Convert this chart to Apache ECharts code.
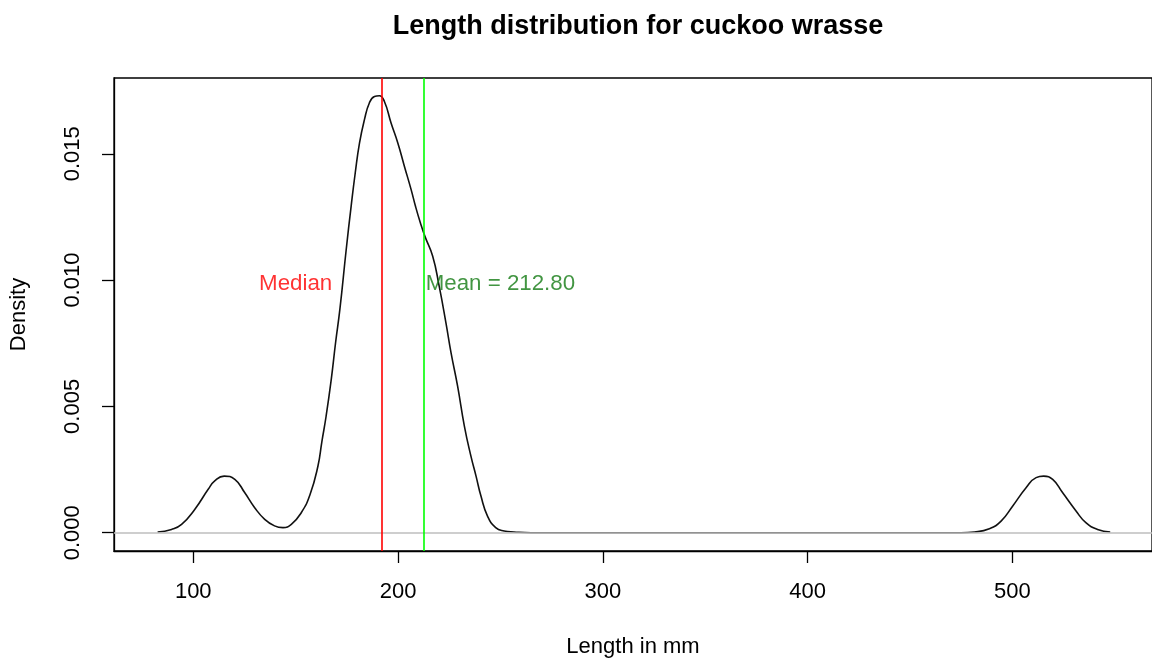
<!DOCTYPE html>
<html>
<head>
<meta charset="utf-8">
<script src="https://cdn.jsdelivr.net/npm/echarts@6/dist/echarts.min.js"></script>
<style>
html,body{margin:0;padding:0;background:#fff;}
#chart{width:1152px;height:663px;}
</style>
</head>
<body>
<div id="chart"></div>
<script>
// Kernel density estimate of length (mm)
var lengthMm = [82.6, 89.4, 94.3, 100.8, 107.3, 110.5, 115.1, 120.3, 125.1, 130.0, 134.9, 139.7, 143.8, 147.9, 152.8, 157.0, 160.9, 162.8, 164.9, 167.4, 169.5, 171.6, 174.7, 177.1, 179.1, 181.2, 183.6, 186.0, 188.5, 190.9, 193.3, 196.6, 199.9, 203.1, 206.4, 208.6, 210.9, 213.1, 216.9, 220.1, 223.4, 225.9, 229.1, 232.4, 235.6, 238.1, 240.5, 243.7, 247.7, 251.8, 256.6, 265, 300, 400, 475, 481.5, 488.8, 494.5, 500.2, 506.7, 511.6, 515.3, 519.7, 524.5, 531.1, 535.9, 541.6, 547.8];
var density = [0.00003, 0.00013, 0.00033, 0.00093, 0.00172, 0.00205, 0.00224, 0.00211, 0.00159, 0.00099, 0.00053, 0.00027, 0.00020, 0.00033, 0.00080, 0.00150, 0.00264, 0.00360, 0.00462, 0.00607, 0.00752, 0.00884, 0.01121, 0.01292, 0.01424, 0.01543, 0.01635, 0.01701, 0.01727, 0.01730, 0.01708, 0.01622, 0.01543, 0.01451, 0.01358, 0.01290, 0.01227, 0.01174, 0.01095, 0.00976, 0.00831, 0.00712, 0.00580, 0.00422, 0.00303, 0.00224, 0.00145, 0.00066, 0.00020, 0.00007, 0.00003, 0, 0, 0, 0, 0.00003, 0.00016, 0.00046, 0.00106, 0.00178, 0.00218, 0.00224, 0.00211, 0.00159, 0.00086, 0.00040, 0.00013, 0.00003];
var medianValue = 192;
var meanValue = 212.80;
var xTicks = [100, 200, 300, 400, 500];
var yTicks = [0, 0.005, 0.010, 0.015];
var medianLabelPos = [150, 0.01];
var meanLabelPos = [250, 0.01];

var FONT = '"Liberation Sans", Arial, Helvetica, sans-serif';
var curve = lengthMm.map(function (x, i) { return [x, density[i]]; });

var chart = echarts.init(document.getElementById('chart'), null, { renderer: 'canvas' });
chart.setOption({
  animation: false,
  backgroundColor: '#ffffff',
  title: {
    text: 'Length distribution for cuckoo wrasse',
    left: 633, top: 8, textAlign: 'center',
    textStyle: { fontFamily: FONT, fontSize: 27, fontWeight: 'bold', color: '#000' }
  },
  grid: {
    left: 112, top: 78, bottom: 111, right: -1,
    show: true, borderColor: '#000', borderWidth: 1.3, backgroundColor: 'transparent'
  },
  xAxis: {
    type: 'value', min: 61.3, max: 568.2,
    name: 'Length in mm', nameLocation: 'middle', nameGap: 85,
    nameTextStyle: { fontFamily: FONT, fontSize: 22, color: '#000' },
    axisLine: { show: true, onZero: false, lineStyle: { color: '#000', width: 1.3 } },
    axisTick: { show: true, length: 12, customValues: xTicks, lineStyle: { color: '#000', width: 1.3 } },
    axisLabel: { show: true, margin: 30, customValues: xTicks, fontFamily: FONT, fontSize: 22, color: '#000' },
    splitLine: { show: false }
  },
  yAxis: {
    type: 'value', min: -0.000724, max: 0.0180,
    name: 'Density', nameLocation: 'middle', nameGap: 84, nameRotate: 90,
    nameTextStyle: { fontFamily: FONT, fontSize: 22, color: '#000' },
    axisLine: { show: true, lineStyle: { color: '#000', width: 1.3 } },
    axisTick: { show: true, length: 12, customValues: yTicks, lineStyle: { color: '#000', width: 1.3 } },
    axisLabel: {
      show: true, margin: 30, rotate: 90, customValues: yTicks,
      fontFamily: FONT, fontSize: 22, color: '#000',
      formatter: function (v) { return v.toFixed(3); }
    },
    splitLine: { show: false }
  },
  series: [
    {
      type: 'line', data: curve, showSymbol: false, symbol: 'none',
      smooth: 0.5,
      lineStyle: { color: '#111', width: 1.6 },
      z: 2
    },
    {
      type: 'line', data: [], z: 3,
      markLine: {
        silent: true, symbol: ['none', 'none'], animation: false,
        label: { show: false },
        data: [
          { yAxis: 0, lineStyle: { color: '#bebebe', width: 1.6, type: 'solid' } },
          { xAxis: medianValue, lineStyle: { color: '#ff0000', width: 1.6, type: 'solid' } },
          { xAxis: meanValue, lineStyle: { color: '#00ff00', width: 1.6, type: 'solid' } }
        ]
      }
    },
    {
      type: 'scatter', symbolSize: 0, z: 4, silent: true,
      data: [medianLabelPos],
      label: {
        show: true, position: 'inside', offset: [0, 4], formatter: 'Median',
        fontFamily: FONT, fontSize: 22.3, color: '#ff0000'
      }
    },
    {
      type: 'scatter', symbolSize: 0, z: 4, silent: true,
      data: [meanLabelPos],
      label: {
        show: true, position: 'inside', offset: [0, 4], formatter: 'Mean = ' + meanValue.toFixed(2),
        fontFamily: FONT, fontSize: 22.3, color: '#137a13'
      }
    }
  ]
});
</script>
</body>
</html>
